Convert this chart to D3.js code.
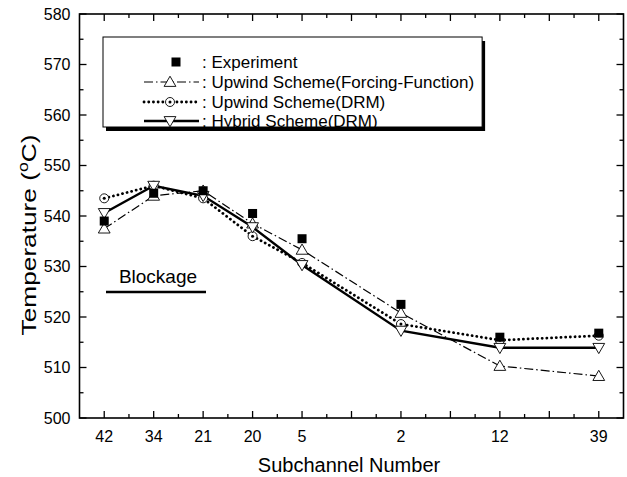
<!DOCTYPE html>
<html>
<head>
<meta charset="utf-8">
<script src="https://cdn.jsdelivr.net/npm/d3@7/dist/d3.min.js"></script>
<style>
  html, body { margin: 0; padding: 0; background: #fff; }
  svg { display: block; font-family: "Liberation Sans", Arial, sans-serif; }
</style>
</head>
<body>
<svg id="chart" width="627" height="477"></svg>
<script>
// Subchannel order along the traverse (slot positions 1..11, some slots unlabeled)
const subchannels = ["42", "34", "21", "20", "5", "2", "12", "39"];
const slots = [1, 2, 3, 4, 5, 7, 9, 11];

// Temperatures (°C)
const experiment = [539.0, 544.5, 545.0, 540.5, 535.5, 522.5, 516.0, 516.8];
const upwindFF   = [537.5, 544.0, 545.0, 538.5, 533.3, 520.8, 510.3, 508.3];
const upwindDRM  = [543.5, 546.0, 543.5, 536.0, 530.7, 518.6, 515.4, 516.3];
const hybridDRM  = [540.6, 546.0, 544.0, 537.8, 530.3, 517.3, 513.9, 513.9];

const yTicks = [500, 510, 520, 530, 540, 550, 560, 570, 580];

const legendLabels = [
  ": Experiment",
  ": Upwind Scheme(Forcing-Function)",
  ": Upwind Scheme(DRM)",
  ": Hybrid Scheme(DRM)"
];

const svg = d3.select("#chart");
const plotL = 79.5, plotR = 623.5, plotT = 14, plotB = 418;

const x = d3.scaleLinear().domain([0.5, 11.5]).range([plotL, plotR]);
const y = d3.scaleLinear().domain([500, 580]).range([plotB, plotT]);

const ink = "#000";

// Frame
svg.append("rect")
  .attr("x", plotL).attr("y", plotT)
  .attr("width", plotR - plotL).attr("height", plotB - plotT)
  .attr("fill", "none").attr("stroke", ink).attr("stroke-width", 1.6);

// Ticks (inward on all four sides)
const majorX = d3.range(1, 12);
const minorX = d3.range(1.5, 11, 1);
const minorY = d3.range(505, 580, 10);
const tg = svg.append("g").attr("stroke", ink).attr("stroke-width", 1.3);
majorX.forEach(v => {
  tg.append("line").attr("x1", x(v)).attr("x2", x(v)).attr("y1", plotB).attr("y2", plotB - 7);
  tg.append("line").attr("x1", x(v)).attr("x2", x(v)).attr("y1", plotT).attr("y2", plotT + 7);
});
minorX.forEach(v => {
  tg.append("line").attr("x1", x(v)).attr("x2", x(v)).attr("y1", plotB).attr("y2", plotB - 4);
  tg.append("line").attr("x1", x(v)).attr("x2", x(v)).attr("y1", plotT).attr("y2", plotT + 4);
});
yTicks.forEach(v => {
  tg.append("line").attr("x1", plotL).attr("x2", plotL + 7).attr("y1", y(v)).attr("y2", y(v));
  tg.append("line").attr("x1", plotR).attr("x2", plotR - 7).attr("y1", y(v)).attr("y2", y(v));
});
minorY.forEach(v => {
  tg.append("line").attr("x1", plotL).attr("x2", plotL + 4).attr("y1", y(v)).attr("y2", y(v));
  tg.append("line").attr("x1", plotR).attr("x2", plotR - 4).attr("y1", y(v)).attr("y2", y(v));
});

// Tick labels
svg.append("g").selectAll("text").data(yTicks).join("text")
  .attr("x", plotL - 9).attr("y", d => y(d)).attr("dy", "0.35em")
  .attr("text-anchor", "end").attr("font-size", 16).text(d => d);
svg.append("g").selectAll("text").data(subchannels).join("text")
  .attr("x", (d, i) => x(slots[i])).attr("y", 442)
  .attr("text-anchor", "middle").attr("font-size", 16).text(d => d);

// Axis titles
svg.append("text").attr("x", 349).attr("y", 472)
  .attr("text-anchor", "middle").attr("font-size", 20).text("Subchannel Number");
const yt = svg.append("text")
  .attr("transform", "translate(36,235) rotate(-90) scale(1.25,1)")
  .attr("text-anchor", "middle").attr("font-size", 21);
yt.append("tspan").text("Temperature (");
yt.append("tspan").attr("font-size", 14).attr("dy", -8).text("o");
yt.append("tspan").attr("dy", 8).text("C)");

// Blockage annotation
svg.append("text").attr("x", 158).attr("y", 283)
  .attr("text-anchor", "middle").attr("font-size", 19).text("Blockage");
svg.append("line").attr("x1", 106).attr("x2", 206).attr("y1", 292).attr("y2", 292)
  .attr("stroke", ink).attr("stroke-width", 2.6);

// Series lines
const line = d3.line().x((d, i) => x(slots[i])).y(d => y(d));
const styles = {
  ff:  { dash: "9,3,1.5,3", width: 1.2, cap: "butt" },
  drm: { dash: "0.1,4.6",   width: 2.8, cap: "round" },
  hyb: { dash: null,        width: 2.4, cap: "butt" }
};
function drawLine(data, s) {
  svg.append("path").datum(data).attr("d", line)
    .attr("fill", "none").attr("stroke", ink)
    .attr("stroke-width", s.width).attr("stroke-linecap", s.cap)
    .attr("stroke-dasharray", s.dash);
}
drawLine(upwindFF, styles.ff);
drawLine(upwindDRM, styles.drm);
drawLine(hybridDRM, styles.hyb);

// Markers
const triUp = d3.symbol().type(d3.symbolTriangle).size(60)();
function markers(data, kind) {
  const g = svg.append("g");
  data.forEach((v, i) => drawMarker(g, x(slots[i]), y(v), kind));
}
function drawMarker(g, cx, cy, kind) {
  if (kind === "square") {
    g.append("rect").attr("x", cx - 4.5).attr("y", cy - 4.5).attr("width", 9).attr("height", 9).attr("fill", ink);
  } else if (kind === "up") {
    g.append("path").attr("d", triUp).attr("transform", `translate(${cx},${cy + 1})`)
      .attr("fill", "#fff").attr("stroke", ink).attr("stroke-width", 0.9);
  } else if (kind === "down") {
    g.append("path").attr("d", triUp).attr("transform", `translate(${cx},${cy - 1}) rotate(180)`)
      .attr("fill", "#fff").attr("stroke", ink).attr("stroke-width", 0.9);
  } else if (kind === "circle") {
    g.append("circle").attr("cx", cx).attr("cy", cy).attr("r", 4.5)
      .attr("fill", "#fff").attr("stroke", ink).attr("stroke-width", 0.9);
    g.append("circle").attr("cx", cx).attr("cy", cy).attr("r", 1.5).attr("fill", ink);
  }
}
markers(upwindFF, "up");
markers(upwindDRM, "circle");
markers(hybridDRM, "down");
markers(experiment, "square");

// Legend: box sized to its widest label
const lg = svg.append("g");
const lx = 103, ly = 37, lh = 90;
const shadow = lg.append("rect").attr("fill", ink);
const box = lg.append("rect").attr("fill", "#fff").attr("stroke", ink).attr("stroke-width", 1);
const rowsY = [62, 82, 102, 121];
const kinds = [
  { m: "square", s: null },
  { m: "up", s: styles.ff },
  { m: "circle", s: styles.drm },
  { m: "down", s: styles.hyb }
];
const textX = 202;
let textRight = 0;
kinds.forEach((k, i) => {
  const ry = rowsY[i];
  if (k.s) {
    lg.append("line").attr("x1", 144).attr("x2", 199).attr("y1", ry).attr("y2", ry)
      .attr("stroke", ink).attr("stroke-width", k.s.width)
      .attr("stroke-linecap", k.s.cap).attr("stroke-dasharray", k.s.dash);
  }
  drawMarker(lg, k.m === "square" ? 176 : 170, ry, k.m);
  const t = lg.append("text").attr("x", textX).attr("y", ry).attr("dy", "0.35em")
    .attr("font-size", 17).text(legendLabels[i]);
  textRight = Math.max(textRight, textX + t.node().getComputedTextLength());
});
const lw = textRight + 8 - lx;
shadow.attr("x", lx + 3).attr("y", ly + 4).attr("width", lw).attr("height", lh);
box.attr("x", lx).attr("y", ly).attr("width", lw).attr("height", lh);
</script>
</body>
</html>
